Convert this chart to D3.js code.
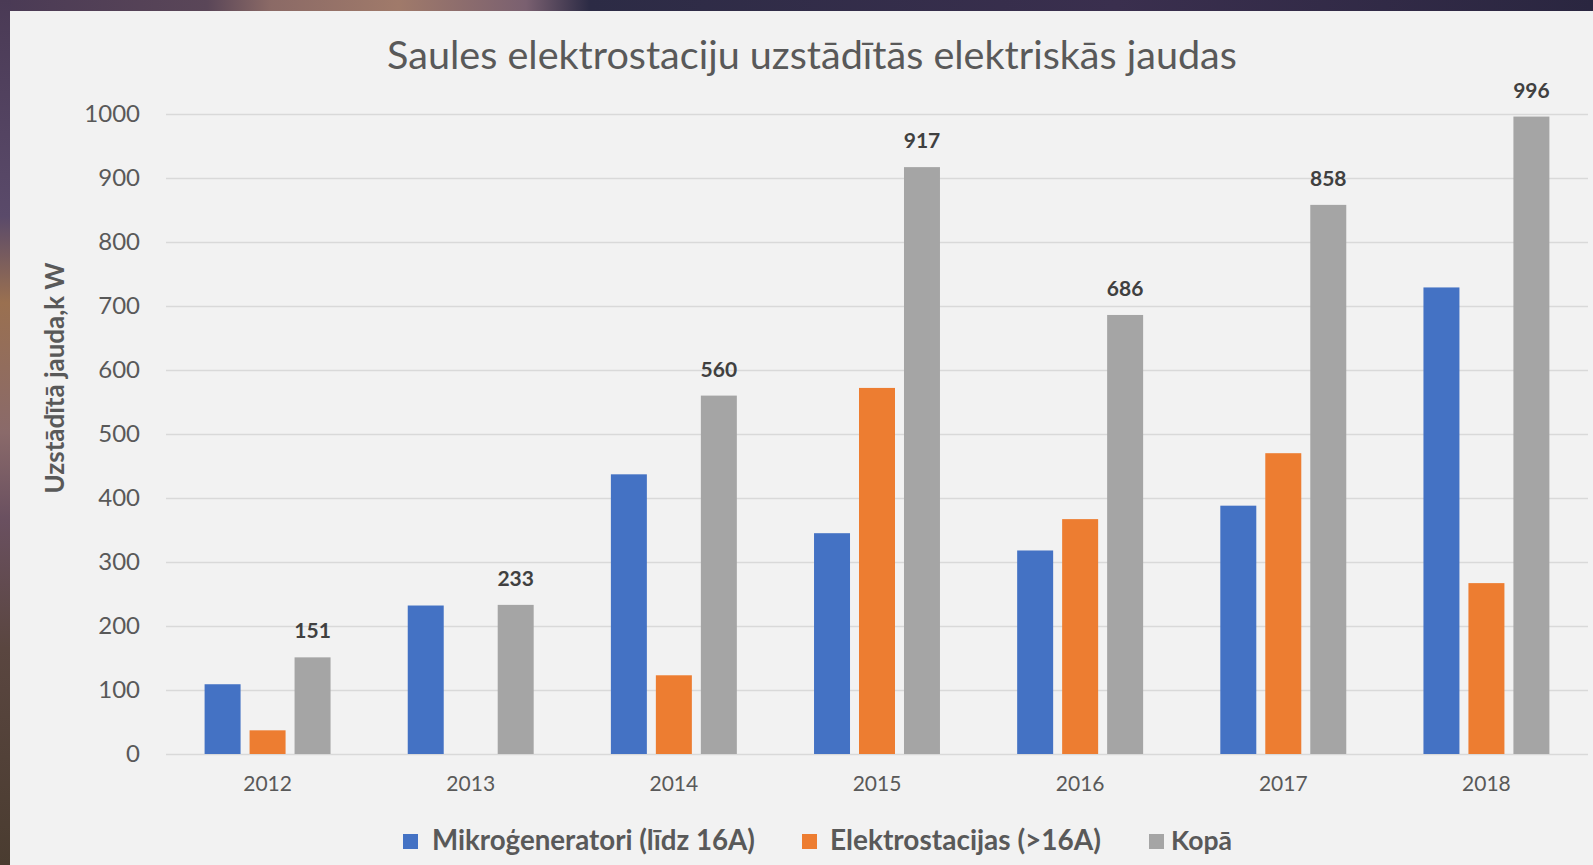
<!DOCTYPE html>
<html><head><meta charset="utf-8">
<script src="https://cdn.jsdelivr.net/npm/d3@7"></script>
<style>html,body{margin:0;padding:0;overflow:hidden;background:#2f2a42;}</style>
</head><body>
<svg id="c" width="1593" height="865"></svg>
<script>
const years = ["2012","2013","2014","2015","2016","2017","2018"];
const seriesNames = ["Mikroģeneratori (līdz 16A)", "Elektrostacijas  (>16A)", "Kopā"];
const mikro = [109, 232, 437, 345, 318, 388, 729];
const elektro = [37, 0, 123, 572, 367, 470, 267];
const kopa = [151, 233, 560, 917, 686, 858, 996];
const yTicks = [0,100,200,300,400,500,600,700,800,900,1000];
const colors = ["#4472C4", "#ED7D31", "#A5A5A5"];
const titleText = "Saules elektrostaciju uzstādītās elektriskās jaudas";
const yTitle = "Uzstādītā jauda,k W";

const svg = d3.select("#c");
const W = 1593, H = 865;

// decorative photo-like background
const defs = svg.append("defs");
const gTop = defs.append("linearGradient").attr("id","gTop");
[[0,"#4a3a55"],[0.13,"#5a4658"],[0.17,"#8b6a66"],[0.25,"#a07a6a"],[0.33,"#7a6070"],[0.37,"#2c2b45"],[0.7,"#3a2f4e"],[1,"#2a2640"]]
  .forEach(s=>gTop.append("stop").attr("offset",s[0]).attr("stop-color",s[1]));
const gLeft = defs.append("linearGradient").attr("id","gLeft").attr("x1",0).attr("y1",0).attr("x2",0).attr("y2",1);
[[0,"#4a3a55"],[0.25,"#5a4a6a"],[0.35,"#9a7050"],[0.5,"#8a6a6a"],[0.6,"#6a5060"],[0.75,"#5a4640"],[1,"#4a3c30"]]
  .forEach(s=>gLeft.append("stop").attr("offset",s[0]).attr("stop-color",s[1]));
svg.append("rect").attr("x",0).attr("y",0).attr("width",W).attr("height",12).attr("fill","url(#gTop)");
svg.append("rect").attr("x",0).attr("y",0).attr("width",11).attr("height",H).attr("fill","url(#gLeft)");

// panel
svg.append("rect").attr("x",10).attr("y",11).attr("width",W-10).attr("height",H-11).attr("fill","#F2F2F2");

const font = "Lato, 'Open Sans', sans-serif";
const pLeft = 166, pRight = 1588, pTop = 114, pBottom = 754;

const x0 = d3.scaleBand().domain(years).range([pLeft,pRight]).paddingInner(0.38).paddingOuter(0.19);
const x1 = d3.scaleBand().domain([0,1,2]).range([0,x0.bandwidth()]).paddingInner(0.2);
const y = d3.scaleLinear().domain([0,1000]).range([pBottom,pTop]);

// gridlines
svg.append("g").selectAll("line").data(yTicks).join("line")
  .attr("x1",pLeft).attr("x2",pRight)
  .attr("y1",d=>Math.round(y(d))+0.5).attr("y2",d=>Math.round(y(d))+0.5)
  .attr("stroke","#D9D9D9").attr("stroke-width",1.5);

// y axis labels
const yAxis = d3.axisLeft(y).tickValues(yTicks).tickSize(0).tickPadding(0).tickFormat(d3.format("d"));
const ya = svg.append("g").attr("transform",`translate(140,0)`).call(yAxis);
ya.select(".domain").remove();
ya.selectAll("text").attr("font-family",font).attr("font-size",24).attr("fill","#595959");

// x axis labels
const xAxis = d3.axisBottom(x0).tickSize(0).tickPadding(0);
const xa = svg.append("g").attr("transform",`translate(0,${pBottom+22})`).call(xAxis);
xa.select(".domain").remove();
xa.selectAll("text").attr("font-family",font).attr("font-size",21).attr("fill","#595959");

// bars
const data = years.map((yr,i)=>({yr, vals:[mikro[i], elektro[i], kopa[i]]}));
const groups = svg.append("g").selectAll("g").data(data).join("g")
  .attr("transform",d=>`translate(${x0(d.yr)},0)`);
groups.selectAll("rect").data(d=>d.vals.map((v,k)=>({v,k})).filter(e=>e.v>0)).join("rect")
  .attr("x",d=>x1(d.k)).attr("width",x1.bandwidth())
  .attr("y",d=>y(d.v)).attr("height",d=>y(0)-y(d.v))
  .attr("fill",d=>colors[d.k]);

// data labels for Kopā
groups.append("text")
  .attr("x",x1(2)+x1.bandwidth()/2)
  .attr("y",d=>y(d.vals[2])-19)
  .attr("text-anchor","middle")
  .attr("font-family",font).attr("font-weight","bold").attr("font-size",21)
  .attr("fill","#404040")
  .text(d=>d.vals[2]);

// fit helper
function fit(sel, width){
  const base = +sel.attr("font-size");
  const w = sel.node().getComputedTextLength();
  sel.attr("font-size", base*width/w);
}

// title
const t = svg.append("text").attr("x",812).attr("y",69).attr("text-anchor","middle")
  .attr("font-family",font).attr("font-size",34).attr("fill","#595959").text(titleText);
fit(t, 850);

// y title
const yt = svg.append("text").attr("transform","translate(64,378) rotate(-90)").attr("text-anchor","middle")
  .attr("font-family",font).attr("font-weight","bold").attr("font-size",22).attr("fill","#595959").text(yTitle);
fit(yt, 231);

// legend
const legX = [403, 802, 1149];
const legTextX = [432, 830, 1171];
const legW = [323, 271, 61];
const lg = svg.append("g");
seriesNames.forEach((n,i)=>{
  lg.append("rect").attr("x",legX[i]).attr("y",834).attr("width",15).attr("height",15).attr("fill",colors[i]);
  const tx = lg.append("text").attr("x",legTextX[i]).attr("y",850)
    .attr("font-family",font).attr("font-weight","bold").attr("font-size",23).attr("fill","#595959").text(n);
  fit(tx, legW[i]);
});
</script>
</body></html>
